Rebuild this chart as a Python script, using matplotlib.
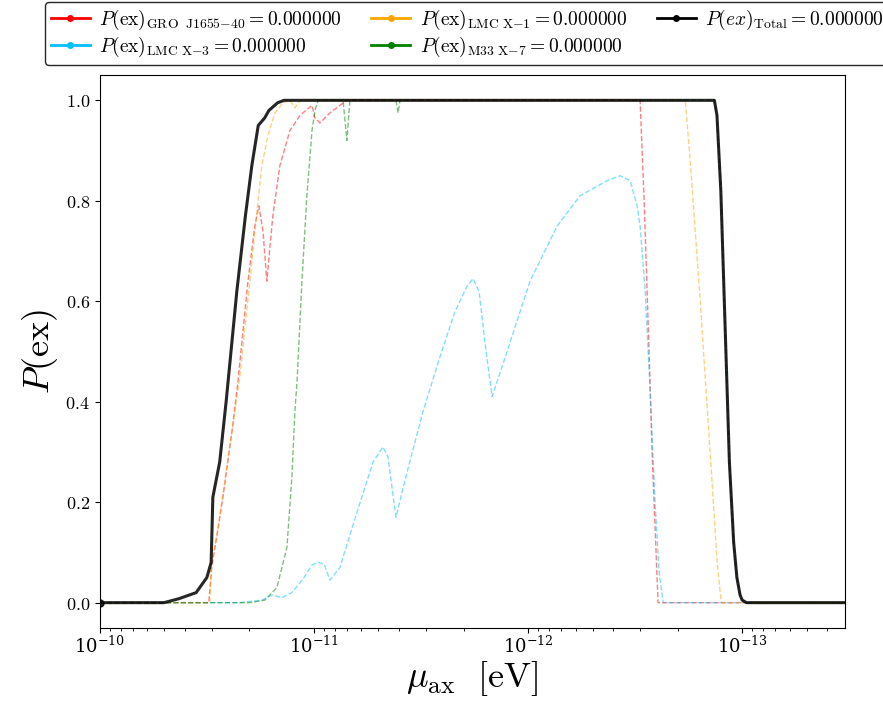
import numpy as np
import matplotlib
matplotlib.use("Agg")
import matplotlib.pyplot as plt
from matplotlib.lines import Line2D
from matplotlib.ticker import FormatStrFormatter, LogLocator, FixedLocator

plt.rcParams["mathtext.fontset"] = "cm"
plt.rcParams["font.family"] = ["serif"]
plt.rcParams["font.serif"] = ["DejaVu Serif"]

# ============================================================
# 数据 (log10 of mu_ax in eV, P(ex))
# ============================================================

logmu_total = [-10.0, -10.30, -10.37, -10.45, -10.50, -10.52, -10.528, -10.56, -10.59,
               -10.64, -10.68, -10.71, -10.74, -10.77, -10.79, -10.83, -10.86,
               -12.87, -12.882, -12.90, -12.92, -12.94, -12.96, -12.975, -12.99,
               -13.0, -13.02, -13.48]
p_total = [0.0, 0.0, 0.008, 0.02, 0.05, 0.08, 0.21, 0.28, 0.40,
           0.62, 0.77, 0.87, 0.95, 0.965, 0.98, 0.995, 1.0,
           1.0, 0.97, 0.82, 0.55, 0.28, 0.12, 0.05, 0.015,
           0.005, 0.0, 0.0]

logmu_gro = [-10.0, -10.509, -10.523, -10.575, -10.617, -10.645, -10.692, -10.724, -10.743,
             -10.762, -10.780, -10.808, -10.841, -10.888, -10.935, -10.991, -11.005,
             -11.028, -11.075, -11.121, -11.154, -12.523, -12.542, -12.565, -12.579,
             -12.607, -13.48]
p_gro = [0.0, 0.0, 0.07, 0.21, 0.34, 0.44, 0.64, 0.75, 0.79,
         0.74, 0.64, 0.77, 0.87, 0.94, 0.97, 0.99, 0.965,
         0.955, 0.975, 0.99, 1.0, 1.0, 0.8, 0.5, 0.3,
         0.0, 0.0]

logmu_lmcx1 = [-10.0, -10.509, -10.514, -10.519, -10.547, -10.593, -10.654, -10.696, -10.729,
               -10.757, -10.785, -10.818, -10.855, -10.888, -10.911, -10.935, -12.734,
               -12.757, -12.804, -12.850, -12.883, -12.902, -13.48]
p_lmcx1 = [0.0, 0.0, 0.0, 0.08, 0.13, 0.27, 0.45, 0.62, 0.76,
           0.87, 0.93, 0.975, 0.995, 1.0, 0.985, 1.0, 1.0,
           0.88, 0.6, 0.3, 0.08, 0.0, 0.0]

logmu_m33 = [-10.0, -10.701, -10.771, -10.827, -10.874, -10.897, -10.911, -10.921, -10.944,
             -10.967, -10.991, -11.005, -11.019, -11.136, -11.154, -11.168, -11.383,
             -11.393, -11.402, -12.87, -12.882, -12.90, -12.92, -12.94, -12.96,
             -12.975, -12.99, -13.0, -13.02, -13.48]
p_m33 = [0.0, 0.0, 0.005, 0.03, 0.11, 0.25, 0.38, 0.44, 0.64,
         0.81, 0.94, 0.98, 1.0, 1.0, 0.92, 1.0, 1.0,
         0.975, 1.0, 1.0, 0.97, 0.82, 0.55, 0.28, 0.12,
         0.05, 0.015, 0.005, 0.0, 0.0]

logmu_lmcx3 = [-10.0, -10.654, -10.757, -10.804, -10.850, -10.897, -10.949, -10.991, -11.019,
               -11.047, -11.075, -11.121, -11.201, -11.276, -11.322, -11.346, -11.383,
               -11.435, -11.509, -11.589, -11.659, -11.715, -11.743, -11.771, -11.804,
               -11.832, -11.902, -12.009, -12.136, -12.243, -12.369, -12.430, -12.477,
               -12.509, -12.523, -12.547, -12.570, -12.593, -12.612, -12.631, -13.48]
p_lmcx3 = [0.0, 0.0, 0.005, 0.015, 0.01, 0.02, 0.047, 0.075, 0.08,
           0.077, 0.045, 0.07, 0.18, 0.28, 0.31, 0.29, 0.17,
           0.26, 0.38, 0.49, 0.58, 0.63, 0.645, 0.62, 0.5,
           0.41, 0.5, 0.64, 0.75, 0.81, 0.84, 0.85, 0.84,
           0.79, 0.75, 0.62, 0.42, 0.2, 0.06, 0.0, 0.0]

labels = [
    r"$P(\mathrm{ex})_{\mathrm{GRO\ \ J1655{-}40}} = 0.000000$",
    r"$P(\mathrm{ex})_{\mathrm{LMC\ X{-}3}} = 0.000000$",
    r"$P(\mathrm{ex})_{\mathrm{LMC\ X{-}1}} = 0.000000$",
    r"$P(\mathrm{ex})_{\mathrm{M33\ X{-}7}} = 0.000000$",
    r"$P(ex)_{\mathrm{Total}} = 0.000000$",
]
colors = ["red", "deepskyblue", "orange", "green", "black"]
xticks = [1e-10, 1e-11, 1e-12, 1e-13]

# ============================================================
# 画图
# ============================================================

fig = plt.figure(figsize=(8.83, 7.03), dpi=100)
ax = fig.add_axes([0.113, 0.107, 0.844, 0.786])

series = [
    (logmu_gro, p_gro),
    (logmu_lmcx3, p_lmcx3),
    (logmu_lmcx1, p_lmcx1),
    (logmu_m33, p_m33),
]
for (lm, p), c in zip(series, colors[:4]):
    ax.plot(10 ** np.array(lm), p, "--", color=c, lw=1.0, alpha=0.5)

ax.plot(10 ** np.array(logmu_total), p_total, "-", color="black", lw=2.2, alpha=0.85,
        marker="o", markersize=5, markevery=[0])

ax.set_xscale("log")
ax.set_xlim(1e-10, 10 ** -13.48)
ax.set_ylim(-0.05, 1.05)
ax.xaxis.set_major_locator(FixedLocator(xticks))
ax.xaxis.set_minor_locator(LogLocator(base=10, subs=np.arange(2, 10), numticks=20))
ax.set_yticks([0.0, 0.2, 0.4, 0.6, 0.8, 1.0])
ax.yaxis.set_major_formatter(FormatStrFormatter(r"$%.1f$"))
ax.tick_params(labelsize=13)
ax.tick_params(axis="x", pad=2)

ax.set_xlabel(r"$\mu_{\mathrm{ax}}\ \ [\mathrm{eV}]$", fontsize=26, labelpad=2)
ax.set_ylabel(r"$P(\mathrm{ex})$", fontsize=26)

handles = [Line2D([0], [0], color=c, lw=2, marker="o", markersize=4) for c in colors]
fig.legend(handles, labels,
           loc="upper left", bbox_to_anchor=(0.051, 0.997), ncol=3,
           fontsize=14, frameon=True, edgecolor="0.15", framealpha=1,
           handlelength=2.0, handletextpad=0.5, columnspacing=1.5,
           labelspacing=0.15, borderpad=0.3, borderaxespad=0.0)

fig.savefig("out.png", dpi=100)
